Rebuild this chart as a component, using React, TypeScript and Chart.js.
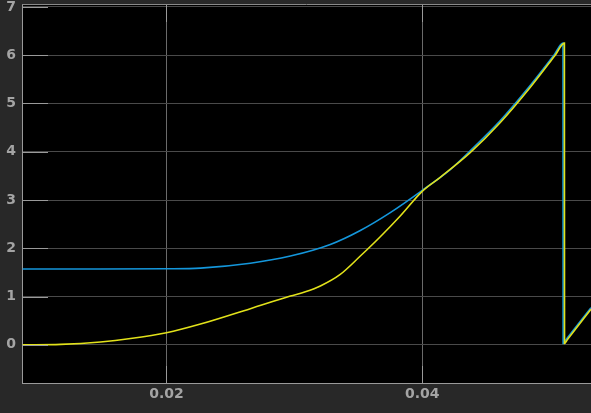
import React, { useEffect, useRef } from "react";
import { Chart, registerables } from "chart.js";

Chart.register(...registerables);

// time (s)
const blueX = [0.00875, 0.01484, 0.02, 0.02266, 0.02656, 0.02969, 0.03281, 0.03516, 0.0375, 0.04, 0.04219, 0.04375, 0.04609, 0.04844, 0.0503, 0.05101, 0.05102, 0.05125, 0.0532];
const blueY = [1.57, 1.57, 1.575, 1.59, 1.69, 1.84, 2.08, 2.37, 2.74, 3.2, 3.63, 4.02, 4.64, 5.37, 6.0, 6.25, 0.03, 0.11, 0.77];

const yellowX = [0.00875, 0.01172, 0.01484, 0.01719, 0.02, 0.02266, 0.02656, 0.02969, 0.03086, 0.03203, 0.03359, 0.03516, 0.03672, 0.03828, 0.04, 0.04141, 0.04375, 0.04609, 0.04844, 0.0504, 0.05112, 0.05113, 0.05136, 0.0532];
const yellowY = [0.0, 0.01, 0.06, 0.13, 0.25, 0.43, 0.75, 1.01, 1.1, 1.22, 1.46, 1.84, 2.24, 2.67, 3.18, 3.47, 3.98, 4.6, 5.33, 6.0, 6.25, 0.03, 0.11, 0.74];

const xRange = [0.0087, 0.0532];
const yRange = [-0.79, 7.06];
const xStep = 0.02;
const yStep = 1;

const toPoints = (xs: number[], ys: number[]) => xs.map((x, i) => ({ x, y: ys[i] }));

const framePlugin = {
  id: "frame",
  afterDatasetsDraw(chart: any) {
    const { ctx, chartArea } = chart;
    const { left, right, top, bottom } = chartArea;
    ctx.save();
    ctx.strokeStyle = "#9a9a9a";
    ctx.lineWidth = 1;
    chart.scales.y.ticks.forEach((t: any) => {
      const py = Math.round(chart.scales.y.getPixelForValue(t.value)) + 0.5;
      ctx.beginPath();
      ctx.moveTo(left, py);
      ctx.lineTo(left + 26, py);
      ctx.stroke();
    });
    chart.scales.x.ticks.forEach((t: any) => {
      const px = Math.round(chart.scales.x.getPixelForValue(t.value)) + 0.5;
      ctx.beginPath();
      ctx.moveTo(px, top);
      ctx.lineTo(px, top + 18);
      ctx.moveTo(px, bottom);
      ctx.lineTo(px, bottom - 17);
      ctx.stroke();
    });
    ctx.strokeStyle = "#8a8a8a";
    ctx.beginPath();
    ctx.moveTo(left, top + 0.5);
    ctx.lineTo(right, top + 0.5);
    ctx.stroke();
    ctx.restore();
  },
  beforeDraw(chart: any) {
    const { ctx, chartArea } = chart;
    ctx.save();
    ctx.fillStyle = "#000000";
    ctx.fillRect(chartArea.left, chartArea.top, chartArea.right - chartArea.left, chartArea.bottom - chartArea.top);
    ctx.restore();
  },
};

export default function App() {
  const ref = useRef<HTMLCanvasElement>(null);
  useEffect(() => {
    document.body.style.margin = "0";
    const chart = new Chart(ref.current!, {
      type: "scatter",
      data: {
        datasets: [
          {
            data: toPoints(yellowX, yellowY),
            showLine: true,
            borderColor: "#e2e21a",
            borderWidth: 1.6,
            pointRadius: 0,
            cubicInterpolationMode: "monotone",
          },
          {
            data: toPoints(blueX, blueY),
            showLine: true,
            borderColor: "#1497dc",
            borderWidth: 1.6,
            pointRadius: 0,
            cubicInterpolationMode: "monotone",
          },
        ],
      },
      options: {
        responsive: false,
        animation: false,
        layout: { padding: { top: 4, right: 0, left: 0, bottom: 0 } },
        plugins: { legend: { display: false }, tooltip: { enabled: false } },
        scales: {
          x: {
            type: "linear",
            min: xRange[0],
            max: xRange[1],
            afterFit: (s: any) => {
              s.height = 30;
              s.paddingLeft = 0;
              s.paddingRight = 0;
            },
            ticks: {
              stepSize: xStep,
              includeBounds: false,
              color: "#a4a4a4",
              font: { family: "DejaVu Sans", size: 14, weight: "bold" },
              padding: 3,
              maxRotation: 0,
              callback: (v: any) => Number(v).toFixed(2),
            },
            grid: { color: "#6a6a6a", lineWidth: 1, drawTicks: false },
            border: { color: "#9a9a9a", width: 1 },
          },
          y: {
            type: "linear",
            min: yRange[0],
            max: yRange[1],
            afterFit: (s: any) => {
              s.width = 22;
              s.paddingTop = 0;
              s.paddingBottom = 0;
            },
            ticks: {
              stepSize: yStep,
              includeBounds: false,
              color: "#a4a4a4",
              font: { family: "DejaVu Sans", size: 14, weight: "bold" },
              padding: 6,
            },
            grid: { color: "#4a4a4a", lineWidth: 1, drawTicks: false },
            border: { color: "#9a9a9a", width: 1 },
          },
        },
      },
      plugins: [framePlugin],
    } as any);
    return () => chart.destroy();
  }, []);
  return (
    <div style={{ position: "absolute", left: 0, top: 0, width: 591, height: 413, background: "#282828" }}>
      <canvas ref={ref} width={591} height={413} />
    </div>
  );
}
